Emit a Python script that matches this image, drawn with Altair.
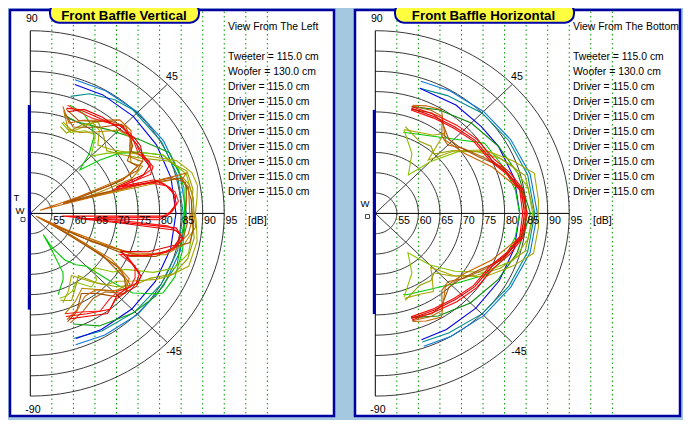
import altair as alt
import pandas as pd

# ---------------- values ----------------
PANEL_TITLES = ["Front Baffle Vertical", "Front Baffle Horizontal"]
VIEW_LINES = ["View From The Left", "View From The Bottom"]
DRIVER_LINES = ["Tweeter = 115.0 cm", "Woofer = 130.0 cm"] + ["Driver = 115.0 cm"] * 8
RING_DB = [55, 60, 65, 70, 75, 80, 85, 90, 95]
RING_LABELS = ["55", "60", "65", "70", "75", "80", "85", "90", "95"]
GUIDE_DB = [55, 60, 65, 70, 75, 80, 85, 90, 95, 100, 105]
SPOKE_ANGLES = [45, -45]
ANGLE_LABELS = ["90", "45", "-45", "-90"]
DB_CENTRE = 50
DB_OUTER = 95
UNIT_LABEL = "[dB]"
# baffle extent along the vertical axis (dB units from the centre), per panel
BAFFLE_TOP = [26.7, 25.5]
BAFFLE_BOTTOM = [-23.7, -24.8]

# polar responses: (angle in degrees, level in dB)
# ---- left panel: vertical plane ----
L_BLUE = [(-71, 82.6), (-60, 83.0), (-45, 83.3), (-30, 83.5), (-15, 83.7), (0, 83.8), (15, 83.8),
          (30, 83.8), (45, 83.8), (60, 83.7), (72, 83.4)]
L_LBLUE = [(-72, 84.0), (-60, 84.6), (-45, 85.2), (-30, 85.7), (-15, 86.0), (0, 86.2), (15, 86.0),
           (30, 85.7), (45, 85.3), (60, 84.9), (72.5, 84.5)]
L_TEAL = [(-72, 82.4), (-60, 83.4), (-45, 84.3), (-30, 85.0), (-15, 85.4), (0, 85.5), (15, 85.4),
          (30, 85.2), (47, 84.9), (55, 84.2), (65, 82.5), (72, 80.3)]
L_DGREEN = [(-70, 79.0), (-60, 82.0), (-46, 84.2), (-35, 85.5), (-20, 86.3), (0, 86.0), (10, 86.8),
            (24.8, 85.6), (35.5, 81.2), (48, 77.6), (56, 76.0), (65, 75.0), (72, 75.5)]
L_GREEN = [(-72, 71.0), (-70, 70.0), (-65, 68.0), (-62.6, 66.5), (-61, 60.0), (-60, 56.0), (-59, 60.0),
           (-55, 64.0), (-50, 66.5), (-45, 68.4), (-42, 75.0), (-39.5, 80.8), (-35, 84.5), (-32.5, 86.5),
           (-25, 87.0), (-15, 86.5), (-5, 86.0), (0, 85.8), (10, 86.2), (18, 86.0), (25, 84.0), (30, 80.0),
           (35.6, 75.5), (39, 71.0), (43, 65.7), (47, 70.0), (52, 74.0), (56, 75.7), (63, 77.5), (71, 78.2)]
L_YGREEN = [(-72, 72.0), (-68, 72.0), (-63, 71.5), (-58, 70.0), (-52, 73.0), (-47, 72.5), (-42, 70.0),
            (-37, 74.0), (-32, 76.0), (-27, 82.0), (-22, 86.0), (-15, 88.0), (-5, 88.0), (0, 87.8),
            (5, 88.0), (15, 87.5), (25, 84.0), (33, 78.0), (40, 73.0), (45, 70.0), (52, 74.5), (58, 74.0),
            (65, 72.0), (72, 73.5)]
L_OLIVE = [(-71, 73.3), (-65, 71.0), (-58, 68.0), (-50, 72.0), (-45, 75.0), (-40, 76.0), (-35, 79.0),
           (-29, 83.5), (-25, 86.0), (-19.4, 89.0), (-10, 89.3), (-3.5, 88.6), (0, 88.3), (5, 88.8),
           (10, 89.4), (15, 88.8), (21, 86.3), (27, 81.0), (33, 77.4), (40, 74.5), (47, 73.0), (52, 76.0),
           (57, 76.6), (64, 72.5), (71.4, 73.8)]
L_OLIVE2 = [(-72, 72.5), (-66, 73.5), (-60, 71), (-54, 69), (-48, 73), (-42, 77), (-36, 80), (-30, 82),
            (-24, 86.5), (-17, 88.2), (-9, 88.5), (-2, 87.6), (3, 87.5), (9, 88.2), (16, 87.8), (22, 84.5),
            (28, 79), (34, 75.8), (41, 73.5), (48, 75.5), (55, 77.5), (61, 75), (67, 71.5), (72, 72.5)]
L_BROWN1 = [(-72, 77.5), (-65, 76), (-58, 74), (-51, 74.2), (-45, 77), (-40, 79), (-35, 78), (-31, 72),
            (-28.5, 58), (-27, 51.5), (-25.5, 60), (-23, 75), (-18, 82), (-13, 85), (-8, 87), (-3, 87.5),
            (0, 87), (5, 87), (10, 87.3), (13, 86), (15.3, 87.5), (18.5, 52.4), (20, 62), (22, 74), (26, 79),
            (31, 77), (36, 78.5), (41, 81), (48, 81), (55, 78), (62, 76), (68, 74), (74, 77.4)]
L_BROWN2 = [(-72, 78), (-66, 76.5), (-59, 73), (-52, 75), (-46, 78.5), (-41, 79.5), (-36, 77), (-32, 70),
            (-29, 56), (-28, 52), (-26.5, 62), (-24.5, 75.5), (-20, 81), (-14, 84.5), (-11, 87.7), (-6, 88),
            (0, 87.5), (5, 87.5), (10, 87), (14, 86), (16, 74), (17.5, 58), (19, 63), (21, 73), (25, 77.5),
            (30, 76), (35, 79), (40, 80), (46, 80.5), (52, 77), (58, 75), (65, 73.5), (72, 76)]
L_BROWN3 = [(-72, 76), (-64, 74), (-57, 72), (-50, 74.5), (-44, 77.5), (-38, 78.5), (-33, 75), (-30, 65),
            (-28.5, 55), (-26, 64), (-23, 76), (-18, 83), (-12, 86.5), (-5, 88.5), (0, 88), (6, 88),
            (11, 87.5), (14, 86.5), (16.5, 62), (18, 67), (20, 75), (24, 78.5), (28, 76.5), (33, 77.5),
            (38, 80), (45, 79), (52, 75.5), (60, 73), (67, 72.5), (73, 76.5)]
L_BROWN4 = [(-71, 78.5), (-63, 77), (-55, 75.5), (-48, 76), (-42, 79.5), (-37, 79), (-33, 74), (-30, 62),
            (-28, 53), (-26, 66), (-22, 78), (-16, 83.5), (-10, 86), (-4, 86.5), (0, 86), (6, 86.5),
            (12, 86.8), (15, 84), (17, 66), (18.5, 58), (20.5, 70), (23, 77), (28, 80), (33, 78), (39, 79.8),
            (44, 80.8), (50, 79.5), (57, 77), (64, 75.5), (72, 77)]
L_RED1 = [(-72, 76.7), (-62, 78), (-52, 80), (-45, 78.5), (-40, 79), (-35, 80), (-30, 79.3), (-25, 74.7),
          (-20, 80), (-15, 84.3), (-10, 86), (-6, 84), (-5, 57.4), (-1.2, 81.7), (2, 83), (4, 84),
          (8.6, 83.5), (13, 82), (16, 80), (17.6, 71.8), (19, 79.5), (22, 80.7), (27, 80), (31, 79.6),
          (35, 80), (39, 79.8), (45, 80.3), (50, 78.9), (57, 78.3), (66, 78), (72, 77.2)]
L_RED2 = [(-71, 77.5), (-63, 78.5), (-54, 80.5), (-47, 79), (-41, 79.5), (-36, 80.5), (-31, 80), (-27, 76),
          (-24, 73), (-19, 79), (-13, 84.5), (-9, 85.5), (-7, 84), (-6.5, 71), (-6.5, 61), (-3, 80),
          (0, 82.5), (3, 83.5), (7, 84), (11, 83), (15, 80.5), (16.5, 74), (18, 71), (20, 78), (23, 80),
          (28, 79.5), (33, 80.5), (38, 80.5), (43, 79.5), (48, 79.2), (55, 79), (64, 78.5), (71, 76.5)]
L_RED3 = [(-72, 76), (-64, 77), (-56, 79), (-49, 78), (-43, 78), (-38, 79.5), (-33, 79), (-28, 77.5),
          (-26, 73), (-22, 78), (-17, 83), (-12, 85.2), (-8, 85), (-5.5, 82), (-4, 65), (-2, 80), (1, 83),
          (5, 84.5), (9, 84), (12, 82.5), (15, 79), (17, 70), (18.5, 76), (21, 80), (25, 80.5), (30, 79),
          (34, 79.5), (40, 80.5), (46, 80), (52, 78.5), (59, 77.5), (67, 77.5), (72, 78)]

# ---- right panel: horizontal plane ----
R_BLUE = [(-71, 82.9), (-60, 83.0), (-45, 83.0), (-30, 83.2), (-15, 83.4), (0, 83.5), (15, 83.4),
          (30, 83.0), (41, 82.6), (55, 82.6), (71.5, 82.5)]
R_LBLUE = [(-71, 84.6), (-60, 85.0), (-45, 85.6), (-30, 86.3), (-15, 87.2), (0, 87.6), (15, 87.2),
           (30, 86.3), (45, 85.5), (60, 84.8), (72, 84.2)]
R_TEAL = [(-71, 83.5), (-60, 84.0), (-45, 85.0), (-30, 85.8), (-15, 86.6), (0, 87.0), (15, 86.6),
          (30, 85.8), (45, 85.0), (60, 83.5), (71.5, 82.5)]
R_DGREEN = [(-72, 77.0), (-60, 79.2), (-45, 81.2), (-30, 82.8), (-16.7, 84.3), (0, 86.0), (16.7, 84.5),
            (30, 83.0), (45, 81.5), (60, 79.5), (72.3, 77.6)]
R_GREEN = [(-72, 71.0), (-70, 71.3), (-41.7, 75.7), (-30, 80.0), (-20, 82.0), (-10, 83.0), (0, 83.5),
           (10, 83.0), (20, 82.0), (34.3, 80.7), (69.7, 71.2), (72, 71.0)]
R_YGREEN = [(-72, 71.6), (-60, 67.0), (-52, 62.3), (-45, 68.0), (-37.7, 73.3), (-30, 79.0), (-20, 84.0),
            (-10, 86.0), (0, 86.5), (10, 86.0), (20, 84.0), (30, 80.5), (38.4, 74.5), (45, 68.0),
            (51, 62.2), (60, 67.0), (72, 71.6)]
R_OLIVE = [(-72, 72.0), (-62, 72.5), (-55, 73.5), (-49, 70.0), (-46, 68.5), (-40, 74.0), (-31.6, 79.8),
           (-22, 84.5), (-15, 88.0), (-5, 88.0), (0, 87.8), (5, 88.0), (15, 88.2), (22, 84.5),
           (31.6, 79.8), (40, 74.0), (47, 68.0), (51, 75.5), (55, 73.5), (62, 72.5), (72, 71.7)]
R_OLIVE2 = [(-72, 72.5), (-60, 70.5), (-52, 71), (-47, 70), (-41, 73.5), (-33, 78), (-25, 82), (-15, 86),
            (0, 86.8), (15, 86), (25, 82), (33, 78), (41, 73.5), (47, 70), (52, 71), (60, 70.5), (72, 72.5)]
R_BROWN1 = [(-72, 78.0), (-66, 79.0), (-59, 79.8), (-48, 74.3), (-35.6, 75.4), (-23, 79.4), (-10, 84.0),
            (0, 85.0), (10, 84.0), (23, 79.4), (35.6, 75.4), (48, 74.3), (59, 79.8), (66, 79.0), (72, 78.0)]
R_BROWN2 = [(-72, 77.0), (-62, 78.0), (-55.7, 77.4), (-47, 75.0), (-40.5, 75.4), (-30.3, 77.7),
            (-21.4, 81.5), (-10, 84.5), (0, 85.3), (10, 84.5), (21.4, 81.5), (30.3, 77.7), (40.5, 75.4),
            (47, 75.0), (55.7, 77.4), (62, 78.0), (72, 77.0)]
R_BROWN3 = [(-72, 77.8), (-63, 78.5), (-57, 78.5), (-51, 74.5), (-45, 73.8), (-38, 76), (-28, 79),
            (-18, 82.2), (-8, 84.6), (0, 85.2), (8, 84.6), (18, 82.2), (28, 79), (38, 76), (45, 73.8),
            (51, 74.5), (57, 78.5), (63, 78.5), (72, 77.8)]
R_RED1 = [(-72, 77.2), (-60, 77.5), (-49, 78.2), (-38, 79.3), (-26, 80.0), (-17.8, 82.3), (-9.7, 84.4),
          (0, 84.6), (9.7, 84.4), (17.8, 82.3), (26, 80.0), (38, 79.3), (49, 78.2), (60, 77.5), (72, 77.2)]
R_RED2 = [(-72, 77.6), (-60, 77.9), (-49, 78.8), (-38, 79.8), (-26, 80.6), (-17.8, 82.8), (-9.7, 84.8),
          (0, 85.1), (9.7, 84.8), (17.8, 82.8), (26, 80.6), (38, 79.8), (49, 78.8), (60, 78.0), (72, 77.6)]
R_RED3 = [(-72, 76.8), (-60, 77.1), (-49, 77.8), (-38, 78.9), (-26, 79.6), (-17.8, 81.9), (-9.7, 84.0),
          (0, 84.2), (9.7, 84.0), (17.8, 81.9), (26, 79.6), (38, 78.9), (49, 77.8), (60, 77.1), (72, 76.8)]

CURVES = [
    (0, L_LBLUE, "#0a78d8"), (0, L_TEAL, "#008c8c"), (0, L_BLUE, "#0000e8"), (0, L_DGREEN, "#10a010"),
    (0, L_GREEN, "#00cc00"), (0, L_YGREEN, "#88c400"), (0, L_OLIVE, "#a8a800"), (0, L_OLIVE2, "#98a000"),
    (0, L_BROWN3, "#b88a00"), (0, L_BROWN4, "#b06010"), (0, L_BROWN2, "#a05000"), (0, L_BROWN1, "#c86400"),
    (0, L_RED3, "#ff2020"), (0, L_RED2, "#e00000"), (0, L_RED1, "#ff0000"),
    (1, R_LBLUE, "#0a78d8"), (1, R_TEAL, "#008c8c"), (1, R_BLUE, "#0000e8"), (1, R_DGREEN, "#008800"),
    (1, R_GREEN, "#00cc00"), (1, R_YGREEN, "#88c400"), (1, R_OLIVE, "#a8a800"), (1, R_OLIVE2, "#98a000"),
    (1, R_BROWN3, "#b06010"), (1, R_BROWN2, "#a05000"), (1, R_BROWN1, "#c86400"),
    (1, R_RED3, "#ff0000"), (1, R_RED2, "#ff0000"), (1, R_RED1, "#e00000"),
]

# ---------------- layout ----------------
W, H = 675, 412
PXD, PYD = 4.31, 4.06          # pixels per dB horizontally / vertically
CX0, CY0 = 30.3, 213.4         # page position of the left polar centre
SHIFT = 345                    # page offset of the right panel
FONT = "Liberation Sans"


def ux(X, panel=0):
    """X is a page x measured within the left panel; panel 1 shifts it to the right panel."""
    return (X - CX0) / PXD + panel * SHIFT / PXD


def uy(Y):
    return (CY0 - Y) / PYD


OFF = SHIFT / PXD
XS = alt.Scale(domain=[ux(8), ux(8 + W)], nice=False, zero=False)
YS = alt.Scale(domain=[uy(8 + H), uy(8)], nice=False, zero=False)
PX = f"datum.panel * {OFF} + (datum.db - {DB_CENTRE}) * cos(datum.ang * PI / 180)"
PY = f"(datum.db - {DB_CENTRE}) * sin(datum.ang * PI / 180)"


def polar_rows(points, panel, name):
    return [{"panel": panel, "name": name, "idx": i, "ang": a, "db": d} for i, (a, d) in enumerate(points)]


def polar_line(rows, **mark):
    return (alt.Chart(pd.DataFrame(rows)).mark_line(**mark)
            .transform_calculate(px=PX, py=PY)
            .encode(x=alt.X("px:Q", scale=XS, axis=None), y=alt.Y("py:Q", scale=YS, axis=None),
                    detail="name:N", order="idx:Q"))


layers = []

# panel frames
frames = pd.DataFrame({"x": [ux(10, 0), ux(10, 1)], "x2": [ux(334, 0), ux(335, 1)],
                       "y": [uy(10)] * 2, "y2": [uy(416)] * 2})
layers.append(alt.Chart(frames).mark_rect(fill="white", stroke="#0000a0", strokeWidth=2.5).encode(
    x=alt.X("x:Q", scale=XS, axis=None), x2="x2", y=alt.Y("y:Q", scale=YS, axis=None), y2="y2"))

# green dotted guides
guides = pd.DataFrame([{"x": p * OFF + d - DB_CENTRE, "y": uy(11.5), "y2": uy(415)}
                       for p in (0, 1) for d in GUIDE_DB])
layers.append(alt.Chart(guides).mark_rule(color="#009a00", strokeDash=[1.5, 3], strokeWidth=1).encode(
    x=alt.X("x:Q", scale=XS, axis=None), y=alt.Y("y:Q", scale=YS, axis=None), y2="y2"))

# rings
ring_rows = []
for p in (0, 1):
    for d in RING_DB:
        ring_rows += polar_rows([(a, d) for a in range(-90, 91, 3)], p, f"r{p}-{d}")
layers.append(polar_line(ring_rows, color="#3a3a3a", strokeWidth=1))

# spokes
spoke_rows = []
for p in (0, 1):
    for a in SPOKE_ANGLES:
        spoke_rows += polar_rows([(a, DB_CENTRE), (a, DB_OUTER)], p, f"s{p}{a}")
layers.append(polar_line(spoke_rows, color="#3a3a3a", strokeWidth=1))

# axes
axis_rows = []
for p in (0, 1):
    axis_rows += polar_rows([(90, DB_OUTER), (90, DB_CENTRE), (-90, DB_OUTER)], p, f"v{p}")
    axis_rows += polar_rows([(0, DB_CENTRE), (0, DB_OUTER)], p, f"h{p}")
layers.append(polar_line(axis_rows, color="black", strokeWidth=1))

# baffle bars
baffle = pd.DataFrame({"x": [ux(29.3, 0), ux(29.3, 1)], "y": BAFFLE_TOP, "y2": BAFFLE_BOTTOM})
layers.append(alt.Chart(baffle).mark_rule(color="#0000a8", strokeWidth=3).encode(
    x=alt.X("x:Q", scale=XS, axis=None), y=alt.Y("y:Q", scale=YS, axis=None), y2="y2"))

# response curves
for k, (p, pts, col) in enumerate(CURVES):
    layers.append(polar_line(polar_rows(pts, p, f"c{k}"), color=col, strokeWidth=1.1))


def text_layer(df, **mark):
    base = dict(font=FONT, fontSize=10.4, color="black", align="left", baseline="middle")
    base.update(mark)
    return alt.Chart(df).mark_text(**base).encode(
        x=alt.X("x:Q", scale=XS, axis=None), y=alt.Y("y:Q", scale=YS, axis=None), text="t:N")


# dB labels
lab = pd.DataFrame([{"x": p * OFF + d - DB_CENTRE + 0.3, "y": uy(221), "t": t}
                    for p in (0, 1) for d, t in zip(RING_DB, RING_LABELS)]
                   + [{"x": p * OFF + 50.5, "y": uy(221), "t": UNIT_LABEL} for p in (0, 1)])
layers.append(text_layer(lab, fontSize=10.6))

# angle labels
ang = pd.DataFrame([{"x": ux(31.8, p), "y": uy(19), "t": ANGLE_LABELS[0]} for p in (0, 1)]
                   + [{"x": ux(172, p), "y": uy(76.5), "t": ANGLE_LABELS[1]} for p in (0, 1)]
                   + [{"x": ux(174, p), "y": uy(352), "t": ANGLE_LABELS[2]} for p in (0, 1)]
                   + [{"x": ux(33, p), "y": uy(410), "t": ANGLE_LABELS[3]} for p in (0, 1)])
layers.append(text_layer(ang, align="center", fontSize=10.6))

# driver markers
drv = pd.DataFrame([{"x": ux(16.5, 0), "y": uy(197.5), "t": "T"},
                    {"x": ux(20, 0), "y": uy(210.5), "t": "W"},
                    {"x": ux(20, 1), "y": uy(204), "t": "W"}])
layers.append(text_layer(drv, align="center", fontSize=9.5))
sq = pd.DataFrame({"x": [ux(23, 0), ux(22.5, 1)], "y": [uy(219.5), uy(216.5)]})
layers.append(alt.Chart(sq).mark_square(size=16, filled=False, color="black", strokeWidth=1).encode(
    x=alt.X("x:Q", scale=XS, axis=None), y=alt.Y("y:Q", scale=YS, axis=None)))

# info text
info = []
for p in (0, 1):
    info.append({"x": ux(228, p), "y": uy(26.7), "t": VIEW_LINES[p]})
    for i, t in enumerate(DRIVER_LINES):
        info.append({"x": ux(228, p), "y": uy(56.7 + 15 * i), "t": t})
layers.append(text_layer(pd.DataFrame(info)))

# title boxes
tb = pd.DataFrame({"x": [ux(50, 0), ux(50, 1)], "x2": [ux(199, 0), ux(229, 1)],
                   "y": [uy(3)] * 2, "y2": [uy(22.7)] * 2})
layers.append(alt.Chart(tb).mark_rect(fill="#ffff40", stroke="#0000a8", strokeWidth=2, cornerRadius=9).encode(
    x=alt.X("x:Q", scale=XS, axis=None), x2="x2", y=alt.Y("y:Q", scale=YS, axis=None), y2="y2"))
tt = pd.DataFrame({"x": [ux(124, 0), ux(138.5, 1)], "y": [uy(20.3)] * 2, "t": PANEL_TITLES})
layers.append(text_layer(tt, align="center", baseline="alphabetic", fontSize=13.3, fontWeight="bold"))

chart = alt.layer(*layers).properties(
    width=W, height=H, padding=0, background="#a4c8e0",
    autosize=alt.AutoSizeParams(type="none"),
).configure_view(stroke=None)

chart.save("out.html", embed_options={"renderer": "svg", "actions": False})
